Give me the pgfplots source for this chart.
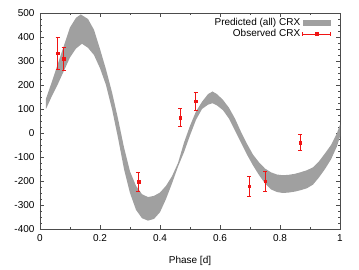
\documentclass[border=0pt]{standalone}
\usepackage{fontspec}
\setmainfont{Liberation Sans}
\usepackage{pgfplots}
\pgfplotsset{compat=1.18}
\definecolor{bandgray}{RGB}{160,160,160}
\definecolor{obsred}{RGB}{240,20,20}
\begin{document}
\fontsize{10}{12}\selectfont
\begin{tikzpicture}
\begin{axis}[
  scale only axis, width=300pt, height=216pt,
  xmin=0, xmax=1, ymin=-400, ymax=500,
  xtick={0,0.2,0.4,0.6,0.8,1}, xticklabels={0,0.2,0.4,0.6,0.8,1},
  ytick={-400,-300,-200,-100,0,100,200,300,400,500},
  minor x tick num=1, minor y tick num=3,
  tick align=inside, major tick length=4pt, minor tick length=2pt,
  tick style={black!70, line width=0.4pt},
  axis line style={black!70, line width=0.5pt},
  every tick label/.append style={font=\fontsize{10}{12}\selectfont},
  /pgf/number format/assume math mode=true,
  xticklabel style={yshift=-2pt},
  yticklabel style={xshift=-2pt},
  xlabel={Phase [d]}, xlabel style={font=\fontsize{10}{12}\selectfont, yshift=-8pt},
  legend plot pos=right, legend cell align=right,
  legend style={draw=none, fill=none, at={(1,1)}, anchor=north east, xshift=-6pt, yshift=-1pt,
    font=\fontsize{10}{12}\selectfont, row sep=-1.5pt},
]
\addplot[fill=bandgray, draw=none,
  legend image code/.code={\fill[bandgray] (0pt,-3pt) rectangle (28pt,3pt);}]
coordinates {
(0.02,143)(0.04,215)(0.06,290)(0.08,365)(0.10,440)(0.12,480)(0.136,494)(0.16,475)(0.18,430)(0.20,350)(0.22,265)(0.24,170)(0.26,60)(0.28,-60)(0.30,-160)(0.32,-220)(0.34,-255)(0.36,-267)(0.38,-262)(0.40,-248)(0.42,-220)(0.44,-180)(0.46,-125)(0.48,-40)(0.50,30)(0.52,90)(0.54,130)(0.56,162)(0.575,173)(0.59,162)(0.61,138)(0.63,105)(0.65,60)(0.67,5)(0.69,-45)(0.71,-90)(0.73,-122)(0.75,-148)(0.77,-164)(0.79,-173)(0.81,-176)(0.83,-174)(0.85,-170)(0.87,-163)(0.89,-155)(0.91,-143)(0.93,-118)(0.95,-85)(0.97,-50)(0.99,0)(1.00,35)
(1.00,-15)(0.99,-55)(0.97,-110)(0.95,-150)(0.93,-185)(0.91,-215)(0.89,-230)(0.87,-238)(0.85,-244)(0.83,-248)(0.81,-250)(0.79,-246)(0.77,-235)(0.75,-210)(0.73,-175)(0.71,-135)(0.69,-90)(0.67,-40)(0.65,10)(0.63,60)(0.61,95)(0.59,115)(0.575,124)(0.56,118)(0.54,100)(0.52,55)(0.50,-10)(0.48,-80)(0.46,-140)(0.44,-210)(0.42,-275)(0.40,-330)(0.38,-358)(0.36,-365)(0.34,-355)(0.32,-320)(0.30,-250)(0.28,-150)(0.26,-20)(0.24,100)(0.22,200)(0.20,270)(0.18,325)(0.16,355)(0.14,372)(0.12,352)(0.10,315)(0.08,260)(0.06,205)(0.04,155)(0.02,100)
} -- cycle;
\addlegendentry{Predicted (all) CRX}
\addplot[only marks, mark=square*, mark size=1.3pt, color=obsred,
  legend image code/.code={
    \draw[obsred, line width=0.6pt] (0pt,0pt) -- (28pt,0pt);
    \draw[obsred, line width=0.6pt] (0pt,-2pt) -- (0pt,2pt);
    \draw[obsred, line width=0.6pt] (28pt,-2pt) -- (28pt,2pt);
    \fill[obsred] (14pt,0pt) +(-1.3pt,-1.3pt) rectangle +(1.3pt,1.3pt);},
  error bars/.cd, y dir=both, y explicit,
  error bar style={obsred, line width=0.6pt},
  error mark options={rotate=90, obsred, mark size=2pt, line width=0.6pt}]
coordinates {
(0.059,333) +- (0,67)
(0.079,310) +- (0,48)
(0.328,-204) +- (0,40)
(0.467,64) +- (0,37)
(0.519,132) +- (0,37)
(0.697,-222) +- (0,42)
(0.750,-200) +- (0,42)
(0.867,-40) +- (0,33)
};
\addlegendentry{Observed CRX}
\end{axis}
\pgfresetboundingbox
\path (-40pt,-40pt) rectangle (319pt,229pt);
\end{tikzpicture}
\end{document}
